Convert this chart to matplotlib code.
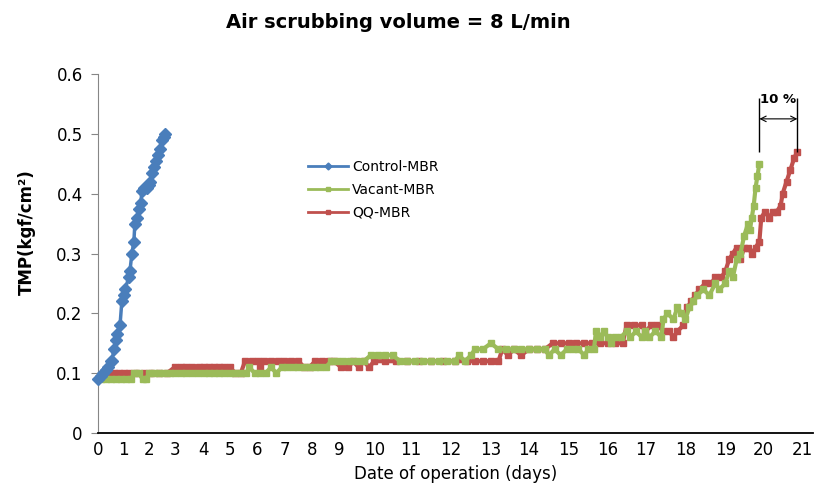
import matplotlib
matplotlib.use("Agg")
import matplotlib.pyplot as plt
from matplotlib.lines import Line2D
import numpy as np

# Control-MBR (days, TMP)
control_days = [0.0, 0.1, 0.2, 0.3, 0.4, 0.5, 0.55, 0.6, 0.7, 0.75, 0.85, 0.92, 1.0, 1.04,
                1.2, 1.24, 1.32, 1.4, 1.44, 1.52, 1.6, 1.68, 1.72, 1.8, 1.92, 2.0, 2.04,
                2.12, 2.2, 2.28, 2.35, 2.42, 2.5, 2.58, 2.62]
control_tmp = [0.09, 0.095, 0.10, 0.105, 0.11, 0.12, 0.12, 0.14, 0.155, 0.165, 0.18, 0.22,
               0.23, 0.24, 0.26, 0.27, 0.30, 0.32, 0.35, 0.36, 0.375, 0.385, 0.405, 0.41,
               0.41, 0.415, 0.42, 0.435, 0.445, 0.455, 0.465, 0.475, 0.49, 0.495, 0.50]

# Vacant-MBR
vacant_days = [0.1, 0.3, 0.5, 0.7, 0.9, 1.1, 1.3, 1.4, 1.6, 1.75, 1.9, 2.0, 2.2, 2.4, 2.6,
               2.8, 3.0, 3.2, 3.4, 3.6, 3.8, 4.0, 4.2, 4.4, 4.6, 4.8, 5.0, 5.2, 5.4, 5.6,
               5.7, 5.9, 6.1, 6.3, 6.5, 6.7, 6.9, 7.1, 7.3, 7.5, 7.7, 7.9, 8.1, 8.3, 8.5,
               8.7, 8.9, 9.1, 9.3, 9.5, 9.7, 9.9, 10.1, 10.3, 10.5, 10.7, 10.9, 11.1, 11.3,
               11.5, 11.7, 11.9, 12.1, 12.2, 12.35, 12.5, 12.6, 12.8, 13.0, 13.2, 13.4,
               13.6, 13.8, 14.0, 14.2, 14.4, 14.5, 14.65, 14.8, 14.95, 15.1, 15.25, 15.4,
               15.5, 15.65, 15.7, 15.8, 15.9, 16.0, 16.1, 16.2, 16.35, 16.5, 16.6, 16.75,
               16.9, 17.0, 17.1, 17.25, 17.4, 17.45, 17.55, 17.7, 17.8, 17.9, 18.0, 18.1,
               18.2, 18.3, 18.45, 18.6, 18.75, 18.85, 19.0, 19.1, 19.2, 19.3, 19.4, 19.5,
               19.6, 19.65, 19.7, 19.75, 19.8, 19.85, 19.9]
vacant_tmp = [0.09, 0.09, 0.09, 0.09, 0.09, 0.09, 0.09, 0.10, 0.10, 0.09, 0.09, 0.10, 0.10,
              0.10, 0.10, 0.10, 0.10, 0.10, 0.10, 0.10, 0.10, 0.10, 0.10, 0.10, 0.10, 0.10,
              0.10, 0.10, 0.10, 0.10, 0.11, 0.10, 0.10, 0.10, 0.11, 0.10, 0.11, 0.11, 0.11,
              0.11, 0.11, 0.11, 0.11, 0.11, 0.11, 0.12, 0.12, 0.12, 0.12, 0.12, 0.12, 0.13,
              0.13, 0.13, 0.13, 0.12, 0.12, 0.12, 0.12, 0.12, 0.12, 0.12, 0.12, 0.13, 0.12,
              0.13, 0.14, 0.14, 0.15, 0.14, 0.14, 0.14, 0.14, 0.14, 0.14, 0.14, 0.13, 0.14,
              0.13, 0.14, 0.14, 0.14, 0.13, 0.14, 0.14, 0.17, 0.16, 0.17, 0.16, 0.15, 0.16,
              0.16, 0.17, 0.16, 0.17, 0.16, 0.17, 0.16, 0.17, 0.16, 0.19, 0.20, 0.19, 0.21,
              0.20, 0.19, 0.21, 0.22, 0.23, 0.24, 0.23, 0.25, 0.24, 0.25, 0.27, 0.26, 0.29,
              0.30, 0.33, 0.35, 0.34, 0.36, 0.38, 0.41, 0.43, 0.45]

# QQ-MBR
qq_days = [0.4, 0.6, 0.8, 1.0, 1.2, 1.5, 1.8, 2.1, 2.4, 2.7, 3.0, 3.2, 3.4, 3.6, 3.85, 4.0,
           4.2, 4.4, 4.6, 4.8, 5.0, 5.2, 5.4, 5.55, 5.8, 6.0, 6.1, 6.25, 6.5, 6.75, 7.0,
           7.25, 7.5, 7.7, 7.9, 8.1, 8.35, 8.6, 8.8, 9.05, 9.25, 9.4, 9.55, 9.7, 9.85,
           10.0, 10.3, 10.6, 10.9, 11.2, 11.5, 11.8, 12.1, 12.4, 12.6, 12.8, 13.0, 13.2,
           13.3, 13.45, 13.6, 13.8, 14.0, 14.2, 14.4, 14.6, 14.8, 15.0, 15.2, 15.4, 15.6,
           15.8, 16.0, 16.2, 16.4, 16.5, 16.7, 16.9, 17.0, 17.15, 17.3, 17.45, 17.6, 17.7,
           17.8, 17.95, 18.05, 18.15, 18.25, 18.35, 18.5, 18.65, 18.75, 18.9, 19.0, 19.1,
           19.2, 19.3, 19.4, 19.5, 19.6, 19.7, 19.8, 19.9, 19.95, 20.05, 20.15, 20.25,
           20.35, 20.45, 20.5, 20.6, 20.7, 20.8, 20.88]
qq_tmp = [0.10, 0.10, 0.10, 0.10, 0.10, 0.10, 0.10, 0.10, 0.10, 0.10, 0.11, 0.11, 0.11,
          0.11, 0.11, 0.11, 0.11, 0.11, 0.11, 0.11, 0.11, 0.10, 0.10, 0.12, 0.12, 0.12,
          0.11, 0.12, 0.12, 0.12, 0.12, 0.12, 0.12, 0.11, 0.11, 0.12, 0.12, 0.12, 0.12,
          0.11, 0.11, 0.12, 0.11, 0.12, 0.11, 0.12, 0.12, 0.12, 0.12, 0.12, 0.12, 0.12,
          0.12, 0.12, 0.12, 0.12, 0.12, 0.12, 0.14, 0.13, 0.14, 0.13, 0.14, 0.14, 0.14,
          0.15, 0.15, 0.15, 0.15, 0.15, 0.15, 0.15, 0.15, 0.15, 0.15, 0.18, 0.18, 0.18,
          0.17, 0.18, 0.18, 0.17, 0.17, 0.16, 0.17, 0.18, 0.21, 0.22, 0.23, 0.24, 0.25,
          0.25, 0.26, 0.26, 0.27, 0.29, 0.30, 0.31, 0.29, 0.31, 0.31, 0.30, 0.31, 0.32,
          0.36, 0.37, 0.36, 0.37, 0.37, 0.38, 0.40, 0.42, 0.44, 0.46, 0.47]

x_ticks = list(range(0, 22))
y_ticks = [0, 0.1, 0.2, 0.3, 0.4, 0.5, 0.6]
y_ticklabels = ["0", "0.1", "0.2", "0.3", "0.4", "0.5", "0.6"]

# the day labels in the original are not evenly spaced, so map days onto
# their horizontal positions with a piecewise linear scale
lbl_days = np.array([-1] + x_ticks + [22], dtype=float)
lbl_pos = np.array([68, 96, 122, 147, 173, 202, 228, 256, 283, 311, 338, 373, 410, 450,
                    490, 528, 568, 607, 645, 685, 725, 763, 802, 841], dtype=float)


def fwd(x):
    return np.interp(x, lbl_days, lbl_pos)


def inv(p):
    return np.interp(p, lbl_pos, lbl_days)


blue = "#4A7EBB"
green = "#9BBB59"
red = "#C0504D"

fig = plt.figure(figsize=(8.24, 4.9), dpi=100)
ax = fig.add_axes([0.1189, 0.1163, 0.8677, 0.7327])
ax.set_xscale("function", functions=(fwd, inv))

ax.plot(qq_days, qq_tmp, color=red, lw=3, marker="s", ms=4, zorder=2)
ax.plot(vacant_days, vacant_tmp, color=green, lw=3, marker="s", ms=4, zorder=3)
ax.plot(control_days, control_tmp, color=blue, lw=2.5, marker="D", ms=6.5,
        zorder=4, clip_on=False)

ax.set_xlim(0, 21.28)
ax.set_ylim(0, 0.6)
ax.set_xticks(x_ticks)
ax.set_xticklabels([str(d) for d in x_ticks], fontsize=12)
ax.set_yticks(y_ticks)
ax.set_yticklabels(y_ticklabels, fontsize=12)

for s in ["top", "right"]:
    ax.spines[s].set_visible(False)
ax.spines["left"].set_color("#868686")
ax.spines["bottom"].set_color("#000000")
ax.spines["bottom"].set_linewidth(1.3)
ax.tick_params(axis="x", length=0, pad=6)
ax.tick_params(axis="y", length=5, color="#868686", pad=6)

ax.set_xlabel("Date of operation (days)", fontsize=12, labelpad=4)
ax.set_ylabel("TMP(kgf/cm²)", fontsize=12, fontweight="bold")
ax.yaxis.set_label_coords(-0.087, 0.56)

fig.text(398 / 824, 1 - 22 / 490, "Air scrubbing volume = 8 L/min",
         ha="center", va="center", fontsize=14, fontweight="bold")

# legend
handles = [Line2D([], [], color=blue, lw=2, marker="D", ms=3.5),
           Line2D([], [], color=green, lw=2, marker="s", ms=3),
           Line2D([], [], color=red, lw=2, marker="s", ms=3)]
ax.legend(handles, ["Control-MBR", "Vacant-MBR", "QQ-MBR"], loc="upper left",
          bbox_to_anchor=(298 / 824, 1 - 150 / 490), bbox_transform=fig.transFigure,
          frameon=False, fontsize=10, handlelength=2.9, handletextpad=0.3,
          labelspacing=0.65, borderpad=0.2)

# 10 % marker between the two end points
x1, x2 = vacant_days[-1], qq_days[-1]
ax.vlines([x1, x2], 0.47, 0.56, color="black", lw=1)
ax.annotate("", xy=(x1, 0.525), xytext=(x2, 0.525),
            arrowprops=dict(arrowstyle="<->", color="black", lw=0.8,
                            shrinkA=0, shrinkB=0))
x_mid = inv((fwd(x1) + fwd(x2)) / 2)
ax.text(x_mid, 0.557, "10 %", ha="center", va="center", fontsize=9.5,
        fontweight="bold")

fig.savefig("out.png", dpi=100)
